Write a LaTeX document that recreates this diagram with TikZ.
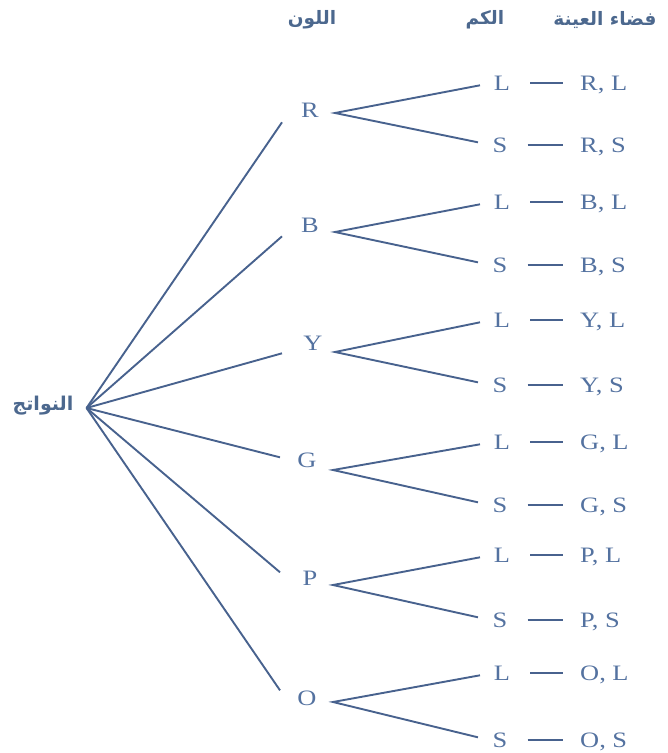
\documentclass[tikz,border=0pt]{standalone}
\usepackage{fontspec}
\setmainfont{Liberation Serif}
\newfontfamily\arabicfont[Script=Arabic]{DejaVu Sans}
\TeXXeTstate=1
\usetikzlibrary{calc}

\definecolor{branchblue}{RGB}{72,98,142}
\definecolor{textblue}{RGB}{84,114,160}
\definecolor{headblue}{RGB}{76,104,142}

% letters in the tree are set slightly wide
\newcommand{\widetext}[1]{\scalebox{1.2}[1]{#1}}

\begin{document}
\begin{tikzpicture}[x=1pt,y=-1pt,
  branch/.style={draw=branchblue, line width=1.9pt},
  link/.style={draw=branchblue, line width=2.3pt, shorten <=20pt, shorten >=17pt},
  letter/.style={text=textblue, font=\fontsize{22}{26}\selectfont, inner sep=0pt, anchor=base},
  outcome/.style={letter, anchor=base west},
  head/.style={text=headblue, font=\arabicfont\bfseries\fontsize{18.5}{22}\selectfont, inner sep=0pt}]
\useasboundingbox (0,0) rectangle (668,753);

% column headings
\node[head] (hcolour) at (312,20) {\beginR اللون\endR};
\node[head] (hsize)   at (485,20) {\beginR الكم\endR};
\node[head] (hspace)  at (605,20) {\beginR فضاء العينة\endR};

% root of the tree
\node[head, font=\arabicfont\bfseries\fontsize{19}{22}\selectfont,
      inner xsep=13pt, inner ysep=0pt] (root) at (43,406) {\beginR النواتج\endR};

% colour / fork / size rows
\foreach \c/\cx/\cy/\ox/\oy/\fx/\fy/\ly/\sy in {
  R/310/110/-28/12/335/113/83/145,
  B/310/225/-28/11/335/232/202/265,
  Y/313/343/-31/10/335/352/320/385,
  G/307/460/-27/-3/333/470/442/505,
  P/310/578/-30/-6/333/585/555/620,
  O/307/698/-27/-8/333/702/673/740}
{
  \node[letter] (\c) at (\cx,\cy+7.5) {\widetext{\c}};
  \node[letter] (\c-L) at (502,\ly+7.5) {\widetext{L}};
  \node[letter] (\c-S) at (500,\sy+7.5) {\widetext{S}};
  \node[outcome] (\c-LO) at (580,\ly+7.5) {\widetext{\c, L}};
  \node[outcome] (\c-SO) at (580,\sy+7.5) {\widetext{\c, S}};
  \coordinate (\c-fork) at (\fx,\fy);
  \draw[branch] ($(root.east)+(0,2)$) -- ($(\c.center)+(\ox,\oy)$);
  \draw[branch] ($(\c-L.center)+(-22,2)$) -- (\c-fork) -- ($(\c-S.center)+(-22,-3)$);
  \draw[link] (\c-L.east) -- (\c-L.east -| \c-LO.west);
  \draw[link] (\c-S.east) -- (\c-S.east -| \c-SO.west);
}
\end{tikzpicture}
\end{document}
